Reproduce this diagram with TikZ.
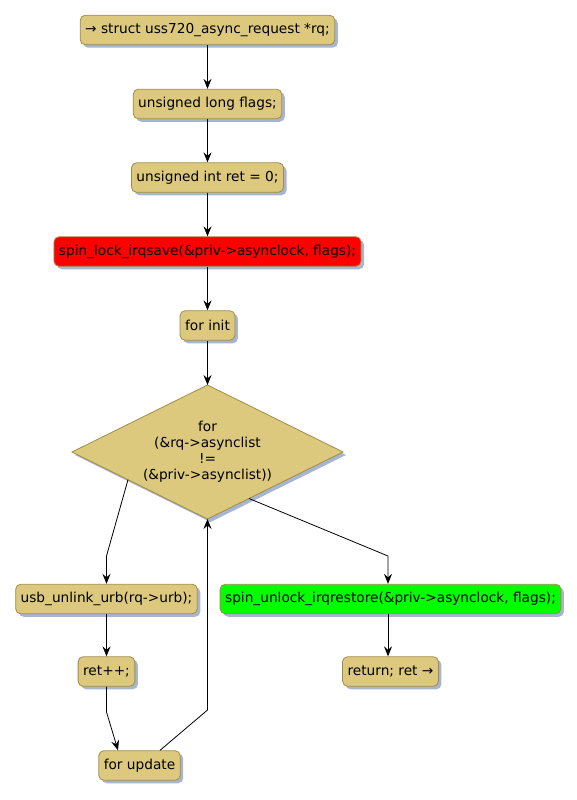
\documentclass[tikz,border=0pt]{standalone}
\usepackage{fontspec}
\setmainfont{DejaVu Sans}
\usetikzlibrary{arrows.meta,shadows}
\definecolor{boxfill}{RGB}{220,201,126}
\definecolor{boxline}{RGB}{160,140,72}
\definecolor{shadowc}{RGB}{168,181,208}
\definecolor{redfill}{RGB}{255,0,0}
\definecolor{greenfill}{RGB}{0,255,0}
\begin{document}
\begin{tikzpicture}[x=1pt,y=-1pt,
  font=\fontsize{13.7}{16}\selectfont,
  act/.style={draw=boxline, fill=boxfill, rounded corners=5pt, inner xsep=5pt, inner ysep=0pt,
    minimum height=29.5pt, line width=0.8pt,
    drop shadow={shadow xshift=3pt, shadow yshift=-3pt, fill=shadowc, opacity=1}},
  arr/.style={-{Stealth[length=10pt,width=8pt,inset=3.5pt]}, line width=0.8pt, black}]
\useasboundingbox (0,0) rectangle (577,800);

\node[act] (n1) at (207.5,30) {→ struct uss720\_async\_request *rq;};
\node[act] (n2) at (207.5,104) {unsigned long flags;};
\node[act] (n3) at (207.5,177.5) {unsigned int ret = 0;};
\node[act, fill=redfill] (n4) at (207.5,251.5) {spin\_lock\_irqsave(\&priv->asynclock, flags);};
\node[act] (n5) at (207.5,325.5) {for init};

% diamond
\coordinate (dt) at (207.5,385);
\coordinate (dr) at (343,452);
\coordinate (db) at (207.5,519);
\coordinate (dl) at (72,452);
\fill[shadowc] ([shift={(3,3)}]dt) -- ([shift={(3,3)}]dr) -- ([shift={(3,3)}]db) -- ([shift={(3,3)}]dl) -- cycle;
\draw[draw=boxline, fill=boxfill, line width=0.8pt] (dt) -- (dr) -- (db) -- (dl) -- cycle;
\node[align=center, inner sep=0pt] (n6) at (207.5,452) {for\\(\&rq->asynclist\\!=\\(\&priv->asynclist))};

\node[act] (n7) at (106.5,599) {usb\_unlink\_urb(rq->urb);};
\node[act] (n8) at (106.5,671.5) {ret++;};
\node[act] (n9) at (139.5,765.5) {for update};
\node[act, fill=greenfill] (n10) at (390.5,599) {spin\_unlock\_irqrestore(\&priv->asynclock, flags);};
\node[act] (n11) at (390.5,671.5) {return; ret →};

% connectors
\draw[arr] (n1.south) -- (n2.north);
\draw[arr] (n2.south) -- (n3.north);
\draw[arr] (n3.south) -- (n4.north);
\draw[arr] (n4.south) -- (n5.north);
\draw[arr] (n5.south) -- (dt);

\coordinate (l0) at (128,479.7);
\coordinate (l1) at (106.5,556);
\draw[arr] (l0) -- (l1) -- (n7.north);

\coordinate (r0) at (249,498.5);
\coordinate (r1) at (388,556);
\draw[arr] (r0) -- (r1) -- (r1 |- n10.north);

\draw[arr] (n7.south) -- (n8.north);
\coordinate (u1) at (106.5,712);
\draw[arr] (n8.south) -- (u1) -- ([xshift=-21.5pt]n9.north);

\coordinate (b1) at (207.5,710);
\draw[arr] ([xshift=20.5pt]n9.north) -- (b1) -- (db);

\draw[arr] (r1 |- n10.south) -- (r1 |- n11.north);
\end{tikzpicture}
\end{document}
